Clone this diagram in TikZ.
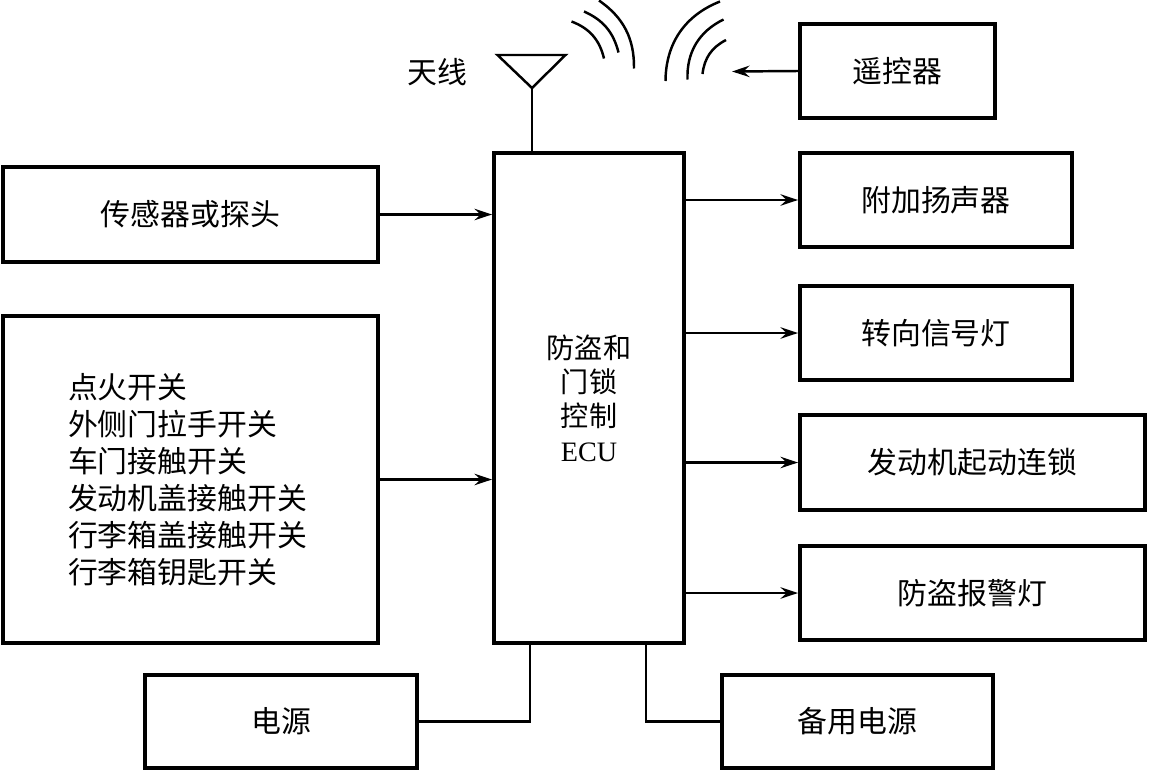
\documentclass[tikz,border=0pt]{standalone}
\usepackage{fontspec}
\setmainfont{Liberation Serif}
\newfontfamily\cjk{Noto Sans CJK SC}
\usetikzlibrary{arrows.meta}

\begin{document}
\begin{tikzpicture}[>={Stealth[length=10pt,width=6.5pt,inset=3.5pt]},
  box/.style={draw,line width=2.2pt,inner sep=0pt,font=\cjk\fontsize{17}{21}\selectfont},
  wire/.style={line width=1.4pt}]
\useasboundingbox (0,0) rectangle (22.98,-15.44);
% ECU and the boxes round it
\node[box,minimum width=3.8cm,minimum height=9.8cm,align=center,
  font=\cjk\fontsize{16}{19.5}\selectfont] (ecu) at (11.78,-7.96) {防盗和\\门锁\\控制\\{\rmfamily ECU}};
\node[box,minimum width=3.9cm,minimum height=1.88cm] (remote) at (17.95,-1.42) {遥控器};
\node[box,minimum width=7.5cm,minimum height=1.9cm] (sensor) at (3.81,-4.29) {传感器或探头};
\node[box,minimum width=7.5cm,minimum height=6.54cm,text width=4.9cm,align=left] (switch) at (3.81,-9.59)
  {点火开关\\外侧门拉手开关\\车门接触开关\\发动机盖接触开关\\行李箱盖接触开关\\行李箱钥匙开关};
\node[box,minimum width=5.44cm,minimum height=1.88cm] (speaker) at (18.72,-4.0) {附加扬声器};
\node[box,minimum width=5.44cm,minimum height=1.88cm] (turn) at (18.72,-6.66) {转向信号灯};
\node[box,minimum width=6.9cm,minimum height=1.9cm] (starter) at (19.45,-9.25) {发动机起动连锁};
\node[box,minimum width=6.9cm,minimum height=1.88cm] (alarm) at (19.45,-11.86) {防盗报警灯};
\node[box,minimum width=5.44cm,minimum height=1.86cm] (power) at (5.62,-14.43) {电源};
\node[box,minimum width=5.42cm,minimum height=1.86cm] (backup) at (17.15,-14.43) {备用电源};
% inputs
\draw[wire,->] (sensor.east) -- (sensor.east -| ecu.west);
\draw[wire,->] (switch.east) -- (switch.east -| ecu.west);
% outputs
\foreach \out in {speaker,turn,starter,alarm}
  \draw[wire,->] (ecu.east |- \out.west) -- (\out.west);
% power lines
\coordinate (pw) at (10.60,-14.43);
\coordinate (bk) at (12.92,-14.43);
\draw[wire] (pw |- ecu.south) -- (pw) -- (power.east);
\draw[wire] (bk |- ecu.south) -- (bk) -- (backup.west);
% antenna
\coordinate (ant) at (10.64,-1.76);
\draw[wire] (ant |- ecu.north) -- (ant);
\draw[wire] (ant) -- (9.95,-1.1) -- (11.31,-1.1) -- cycle;
\node[font=\cjk\fontsize{17}{21}\selectfont] (antlabel) at (8.74,-1.44) {天线};
% radio waves
\draw[wire] (11.43,-0.43) to[bend left=28] (12.08,-1.17);
\draw[wire] (11.68,-0.23) to[bend left=26] (12.37,-1.05);
\draw[wire] (11.98,-0.01) to[bend left=28] (12.68,-1.37);
\draw[wire] (14.40,-0.03) to[bend right=34] (13.31,-1.62);
\draw[wire] (14.47,-0.39) to[bend right=33] (13.75,-1.59);
\draw[wire] (14.52,-0.80) to[bend right=28] (14.05,-1.48);
\coordinate (wave) at (14.64,-1.43);
\draw[wire,->] (remote.west) -- (wave);
\end{tikzpicture}
\end{document}
